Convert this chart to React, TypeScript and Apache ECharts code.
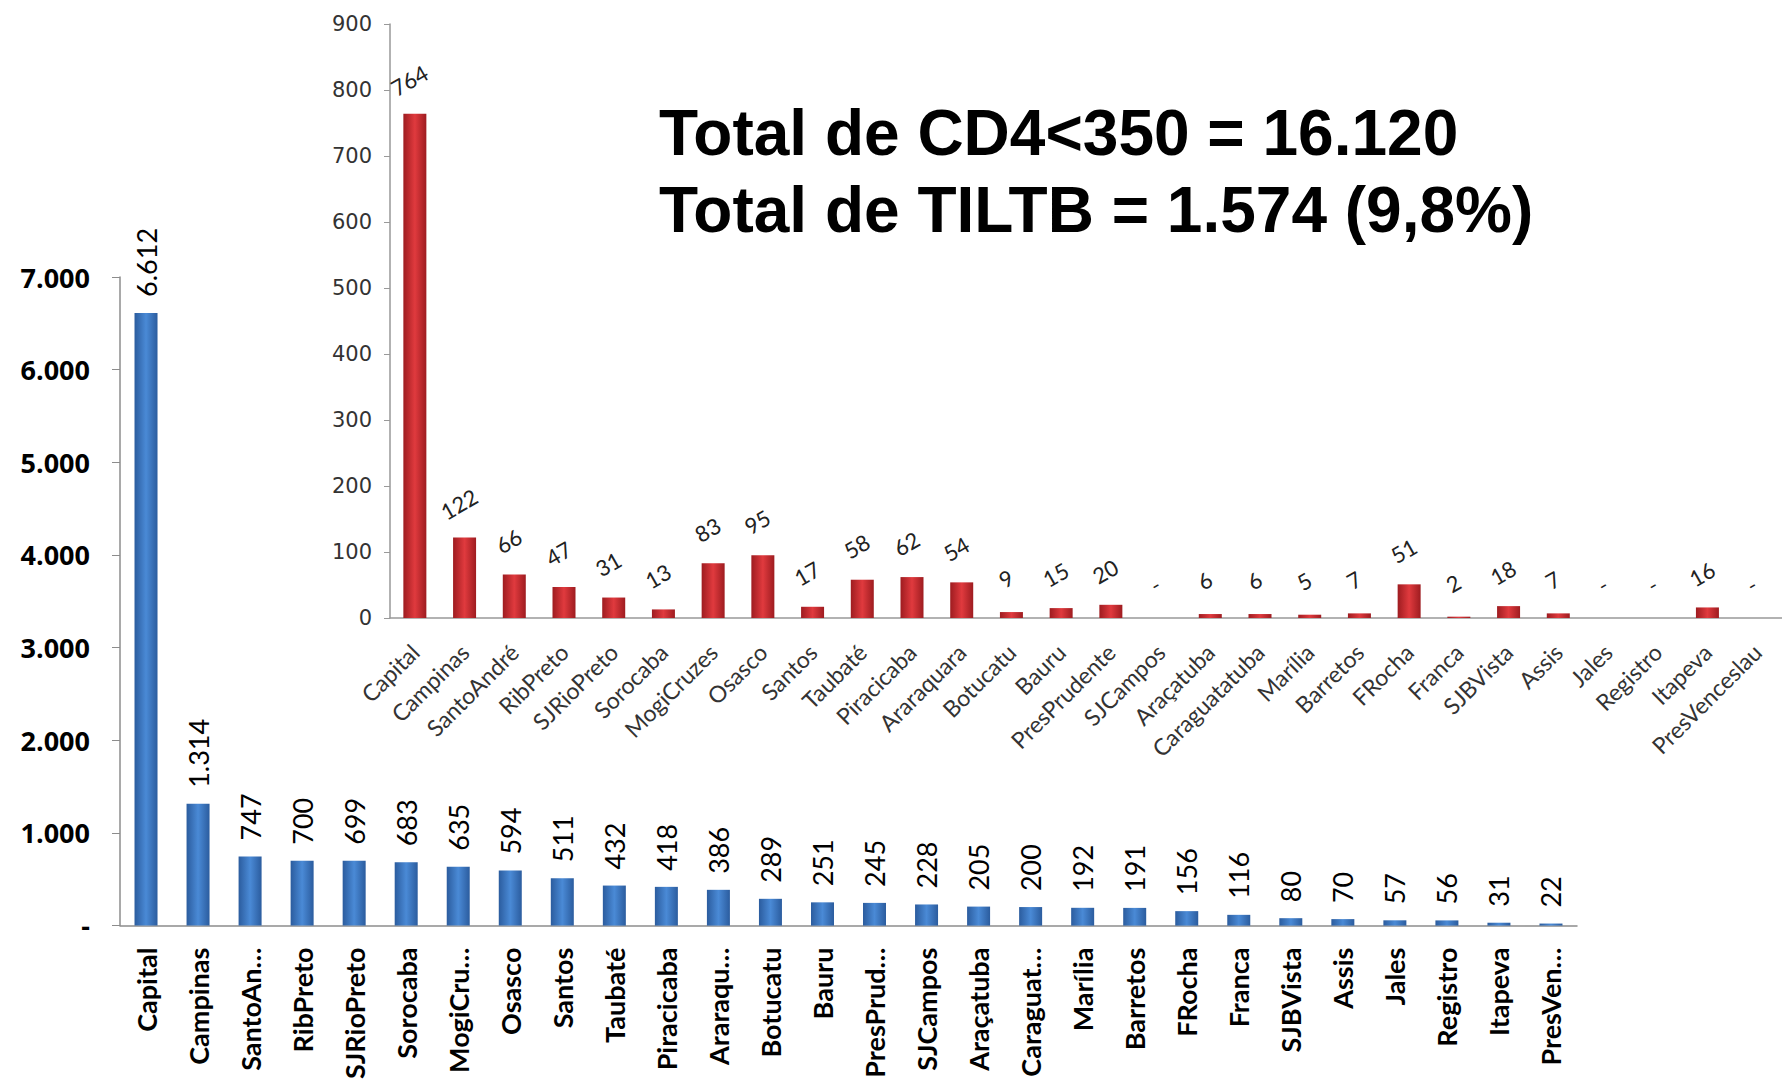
import React, { useEffect, useRef } from "react";
import * as echarts from "echarts";

// Main chart (CD4<350) — categories as displayed (truncated) and values
const mainCategories = [
  "Capital", "Campinas", "SantoAn…", "RibPreto", "SJRioPreto", "Sorocaba", "MogiCru…",
  "Osasco", "Santos", "Taubaté", "Piracicaba", "Araraqu…", "Botucatu", "Bauru",
  "PresPrud…", "SJCampos", "Araçatuba", "Caraguat…", "Marília", "Barretos", "FRocha",
  "Franca", "SJBVista", "Assis", "Jales", "Registro", "Itapeva", "PresVen…",
];
const mainValues = [
  6612, 1314, 747, 700, 699, 683, 635, 594, 511, 432, 418, 386, 289, 251,
  245, 228, 205, 200, 192, 191, 156, 116, 80, 70, 57, 56, 31, 22,
];
const mainTicks = [0, 1000, 2000, 3000, 4000, 5000, 6000, 7000];

// Inset chart (TILTB)
const insetCategories = [
  "Capital", "Campinas", "SantoAndré", "RibPreto", "SJRioPreto", "Sorocaba", "MogiCruzes",
  "Osasco", "Santos", "Taubaté", "Piracicaba", "Araraquara", "Botucatu", "Bauru",
  "PresPrudente", "SJCampos", "Araçatuba", "Caraguatatuba", "Marília", "Barretos", "FRocha",
  "Franca", "SJBVista", "Assis", "Jales", "Registro", "Itapeva", "PresVenceslau",
];
const insetValues = [
  764, 122, 66, 47, 31, 13, 83, 95, 17, 58, 62, 54, 9, 15,
  20, 0, 6, 6, 5, 7, 51, 2, 18, 7, 0, 0, 16, 0,
];
const insetTicks = [0, 100, 200, 300, 400, 500, 600, 700, 800, 900];

const titleLines = ["Total de CD4<350 = 16.120", "Total de TILTB = 1.574 (9,8%)"];

const fmt = (v: number) =>
  v === 0 ? "-" : String(v).replace(/\B(?=(\d{3})+(?!\d))/g, ".");

const blueGrad = new echarts.graphic.LinearGradient(0, 0, 1, 0, [
  { offset: 0, color: "#2b5c9e" },
  { offset: 0.5, color: "#4a8ad6" },
  { offset: 1, color: "#2b5c9e" },
]);
const redGrad = new echarts.graphic.LinearGradient(0, 0, 1, 0, [
  { offset: 0, color: "#9e1c20" },
  { offset: 0.5, color: "#e03a3e" },
  { offset: 1, color: "#9e1c20" },
]);

export default function App() {
  const ref = useRef<HTMLDivElement>(null);
  useEffect(() => {
    if (!ref.current) return;
    const chart = echarts.init(ref.current, null, { renderer: "svg" });
    chart.setOption({
      animation: false,
      backgroundColor: "#ffffff",
      grid: [
        { left: 120, top: 277, width: 1457, height: 653 },
        { left: 390, top: 24, width: 1397, height: 594 },
      ],
      xAxis: [
        {
          type: "category",
          gridIndex: 0,
          data: mainCategories,
          axisLine: { lineStyle: { color: "#8c8c8c", width: 1.5 } },
          axisTick: { length: 12, lineStyle: { color: "#8c8c8c", width: 1.5 } },
          axisLabel: {
            rotate: 90,
            interval: 0,
            margin: 22,
            fontFamily: "Lato",
            fontWeight: "bold",
            fontSize: 27,
            color: "#000",
          },
        },
        {
          type: "category",
          gridIndex: 1,
          data: insetCategories,
          axisLine: { lineStyle: { color: "#999", width: 1.5 } },
          axisTick: { length: 8, lineStyle: { color: "#999" } },
          axisLabel: {
            rotate: 45,
            interval: 0,
            margin: 30,
            fontFamily: "Lato",
            fontSize: 23,
            color: "#333",
          },
        },
      ],
      yAxis: [
        {
          type: "value",
          gridIndex: 0,
          min: 0,
          max: 7000,
          interval: 1000,
          axisLine: { show: true, lineStyle: { color: "#8c8c8c", width: 1.5 } },
          axisTick: { show: true, length: 8, lineStyle: { color: "#8c8c8c" } },
          splitLine: { show: false },
          axisLabel: {
            margin: 30,
            fontFamily: "Open Sans",
            fontWeight: "bold",
            fontSize: 27,
            color: "#000",
            formatter: (v: number) => (mainTicks.includes(v) ? fmt(v) : ""),
          },
        },
        {
          type: "value",
          gridIndex: 1,
          min: 0,
          max: 900,
          interval: 100,
          axisLine: { show: true, lineStyle: { color: "#999", width: 1.5 } },
          axisTick: { show: true, length: 6, lineStyle: { color: "#999" } },
          splitLine: { show: false },
          axisLabel: {
            margin: 18,
            fontFamily: "DejaVu Sans",
            fontSize: 21,
            color: "#333",
            formatter: (v: number) => (insetTicks.includes(v) ? String(v) : ""),
          },
        },
      ],
      series: [
        {
          type: "bar",
          xAxisIndex: 0,
          yAxisIndex: 0,
          data: mainValues,
          barWidth: 23,
          itemStyle: { color: blueGrad },
          label: {
            show: true,
            position: "top",
            rotate: 90,
            align: "left",
            verticalAlign: "middle",
            distance: 16,
            fontFamily: "Lato",
            fontSize: 27,
            color: "#000",
            formatter: (p: any) => fmt(p.value),
          },
        },
        {
          type: "bar",
          xAxisIndex: 1,
          yAxisIndex: 1,
          data: insetValues,
          barWidth: 23,
          itemStyle: { color: redGrad },
          label: {
            show: true,
            position: "top",
            rotate: 30,
            distance: 24,
            fontFamily: "Lato",
            fontSize: 22,
            color: "#222",
            formatter: (p: any) => fmt(p.value),
          },
        },
      ],
      graphic: titleLines.map((t, i) => ({
        type: "text",
        x: 659,
        y: 133 + i * 77,
        style: {
          text: t,
          fontFamily: "Liberation Sans",
          fontWeight: "bold",
          fontSize: 64,
          fill: "#000",
          verticalAlign: "middle",
          align: "left",
        },
      })),
    });
    return () => chart.dispose();
  }, []);
  return (
    <div
      ref={ref}
      style={{ position: "absolute", left: 0, top: 0, width: 1782, height: 1082, overflow: "hidden" }}
    />
  );
}
